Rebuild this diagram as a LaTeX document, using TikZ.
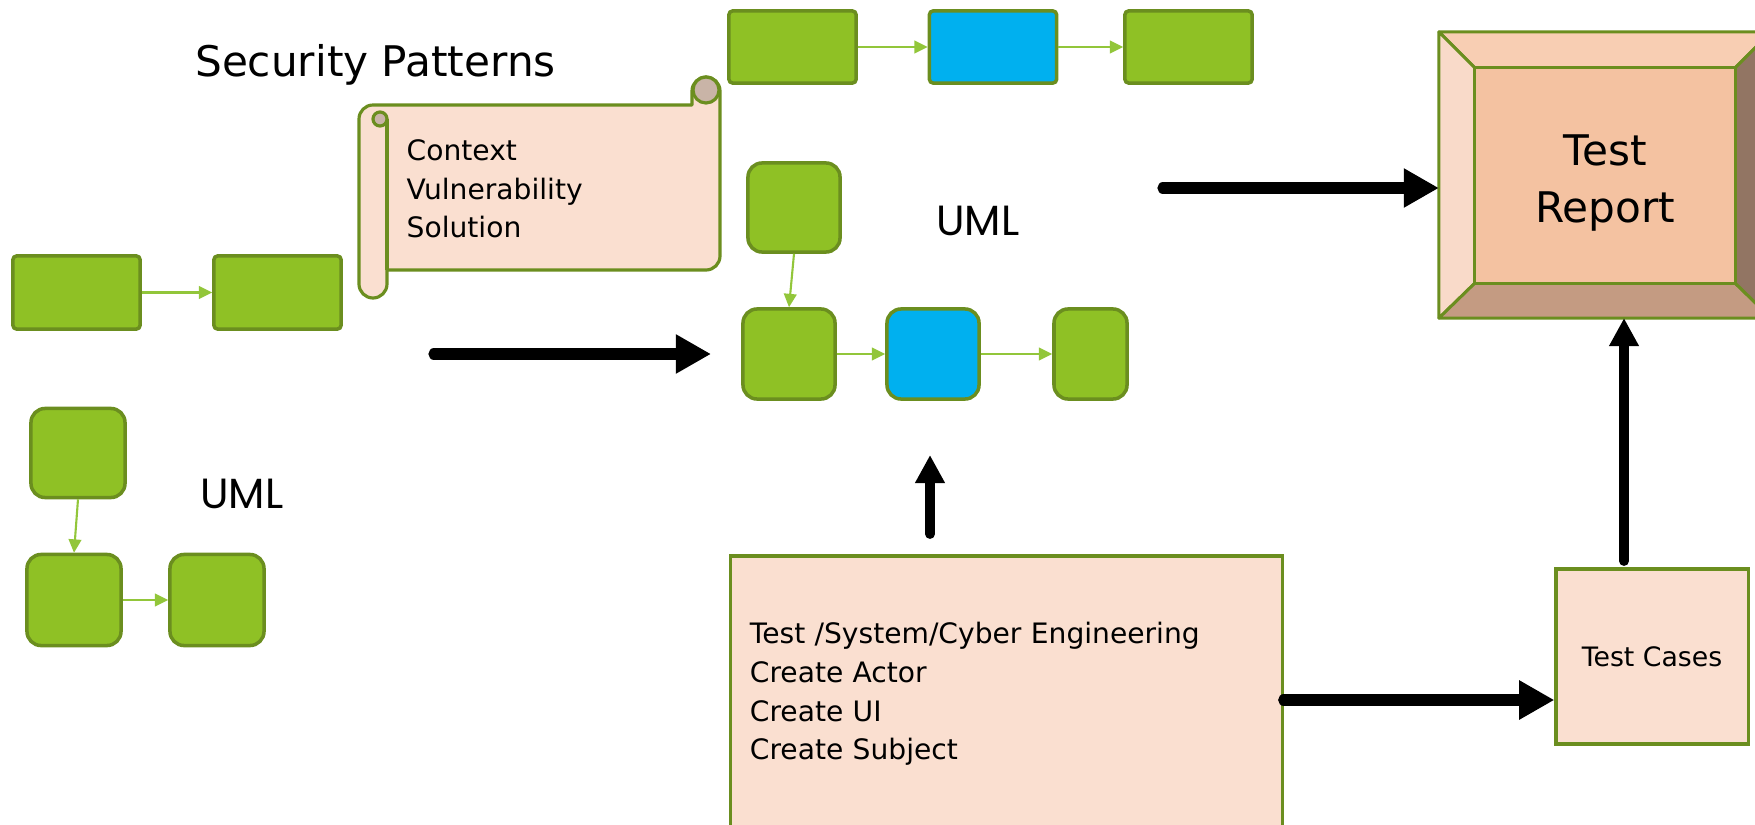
\documentclass[tikz,border=0pt]{standalone}
\usepackage{xcolor}
\usepackage{fontspec}
\setmainfont{DejaVu Sans}
\newfontfamily\umlfont{Poppins}
\usepackage{tikz}
\usetikzlibrary{arrows.meta}
\usetikzlibrary{calc}

\definecolor{gline}{HTML}{6B8E1F}
\definecolor{gfill}{HTML}{8FC125}
\definecolor{garrow}{HTML}{92C63A}
\definecolor{bfill}{HTML}{00B0EF}
\definecolor{peach}{HTML}{FADFD0}
\definecolor{curl}{HTML}{C9B4A7}
\definecolor{bevtop}{HTML}{F8CEB3}
\definecolor{bevleft}{HTML}{F9DAC9}
\definecolor{bevbot}{HTML}{C49B82}
\definecolor{bevright}{HTML}{927563}
\definecolor{bevface}{HTML}{F4C2A1}

\begin{document}
\begin{tikzpicture}[
  x=0.01cm, y=-0.01cm,
  gbox/.style={
      draw=gline,
      fill=gfill,
      line width=1pt,
      rounded corners=1pt,
      inner sep=0pt
  },
  gsq/.style={gbox, rounded corners=4pt},
  pbox/.style={draw=gline, fill=peach, line width=0.9pt, inner sep=0pt},
  scrl/.style={draw=gline, line width=0.9pt, line join=round},
  bev/.style={draw=gline, line width=0.85pt, line join=round},
  garr/.style={-{Triangle[length=3.8pt,width=3.6pt]}, draw=garrow, line width=0.6pt},
  barr/.style={-{Triangle[length=10pt,width=10.5pt]}, line width=3.2pt, line cap=round},
  barrv/.style={-{Triangle[length=8pt,width=8pt]}, line width=2.8pt, line cap=round},
  txt/.style={font=\fontsize{8}{11}\selectfont, align=left, inner sep=0pt},
  uml/.style={font=\umlfont\fontsize{12}{14}\selectfont, inner sep=0pt, anchor=base}
]
\clip (0,0) rectangle (1755,824);

\node[gbox, minimum width=1.27cm, minimum height=0.72cm] (top1) at (792.5,47) {};
\node[gbox, minimum width=1.27cm, minimum height=0.72cm, fill=bfill] (top2) at (993,47) {};
\node[gbox, minimum width=1.27cm, minimum height=0.72cm] (top3) at (1188.5,47) {};
\draw[garr] (top1) -- (top2);
\draw[garr] (top2) -- (top3);

\node[gbox, minimum width=1.27cm, minimum height=0.73cm] (pre1) at (76.5,292.5) {};
\node[gbox, minimum width=1.27cm, minimum height=0.73cm] (pre2) at (277.5,292.5) {};
\draw[garr] (pre1) -- (pre2);

\node[font=\fontsize{12}{14}\selectfont, inner sep=0pt, anchor=base] (secpat) at (375.5,76) {Security Patterns};

\draw[scrl, fill=peach] (720,91) -- (720,256) arc[start angle=0, end angle=-90, radius=0.14cm]
  -- (387,270) -- (387,284) arc[start angle=0, end angle=-180, radius=0.14cm]
  -- (359,119) arc[start angle=180, end angle=90, radius=0.14cm]
  -- (692,105) -- (692,91) arc[start angle=180, end angle=0, radius=0.14cm] -- cycle;
\draw[scrl] (387,119) -- (387,270);
\filldraw[scrl, fill=curl] (380,119) circle[radius=0.07cm];
\filldraw[scrl, fill=curl] (706,90) circle[radius=0.13cm];
\node[txt, anchor=west] (ctx) at (406,189) {Context\\Vulnerability\\Solution};

\node[gsq, minimum width=0.94cm, minimum height=0.89cm] (luml1) at (78,453) {};
\node[gsq, minimum width=0.94cm, minimum height=0.91cm] (luml2) at (74,600) {};
\node[gsq, minimum width=0.94cm, minimum height=0.91cm] (luml3) at (217,600) {};
\draw[garr] (luml1.south) -- (luml2.north);
\draw[garr] (luml2) -- (luml3);
\node[uml] (lumltxt) at (242,508) {UML};

\node[gsq, minimum width=0.92cm, minimum height=0.89cm] (muml1) at (794,207.5) {};
\node[gsq, minimum width=0.92cm, minimum height=0.90cm] (muml2) at (789,354) {};
\node[gsq, minimum width=0.92cm, minimum height=0.90cm, fill=bfill] (muml3) at (933,354) {};
\node[gsq, minimum width=0.73cm, minimum height=0.90cm] (muml4) at (1090.5,354) {};
\draw[garr] (muml1.south) -- (muml2.north);
\draw[garr] (muml2) -- (muml3);
\draw[garr] (muml3) -- (muml4);
\node[uml] (mumltxt) at (978,235) {UML};

\node[draw=none, inner sep=0pt, outer sep=0pt, minimum width=3.32cm, minimum height=2.86cm] (rpt) at (1605,175) {};
\path (rpt.north west) ++(36,36) coordinate (inw);
\path (rpt.south east) ++(-36,-35) coordinate (ise);
\coordinate (ine) at (inw -| ise);
\coordinate (isw) at (ise -| inw);
\filldraw[bev, fill=bevtop] (rpt.north west) -- (rpt.north east) -- (ine) -- (inw) -- cycle;
\filldraw[bev, fill=bevleft] (rpt.north west) -- (inw) -- (isw) -- (rpt.south west) -- cycle;
\filldraw[bev, fill=bevbot] (rpt.south west) -- (isw) -- (ise) -- (rpt.south east) -- cycle;
\filldraw[bev, fill=bevright] (rpt.north east) -- (ine) -- (ise) -- (rpt.south east) -- cycle;
\filldraw[bev, fill=bevface] (inw) rectangle (ise);
\node[font=\fontsize{12}{16.2}\selectfont, align=center, inner sep=0pt] (rpttxt) at (1605,183) {Test\\Report};

\node[pbox, minimum width=5.51cm, minimum height=2.76cm, text width=5.13cm, txt] (eng) at (1006.5,694)
  {Test /System/Cyber Engineering\\Create Actor\\Create UI\\Create Subject};
\node[pbox, minimum width=1.92cm, minimum height=1.75cm, font=\fontsize{7.6}{9}\selectfont] (cases) at (1652,656.5) {Test Cases};

\coordinate (lin)      at (434,354);
\coordinate (lout)     at (711,354);
\coordinate (toreport) at (1163,188);
\coordinate (upfrom)   at (930,534);
\coordinate (upto)     at (930,455);
\coordinate (casesup)  at (1624,561);

\draw[barr] (lin) -- (lout);
\draw[barr] (toreport) -- (toreport -| rpt.west);
\draw[barrv] (upfrom) -- (upto);
\draw[barr] (eng.east |- 0,700) -- (cases.west |- 0,700);
\draw[barrv] (casesup) -- (casesup |- rpt.south);

\end{tikzpicture}
\end{document}
